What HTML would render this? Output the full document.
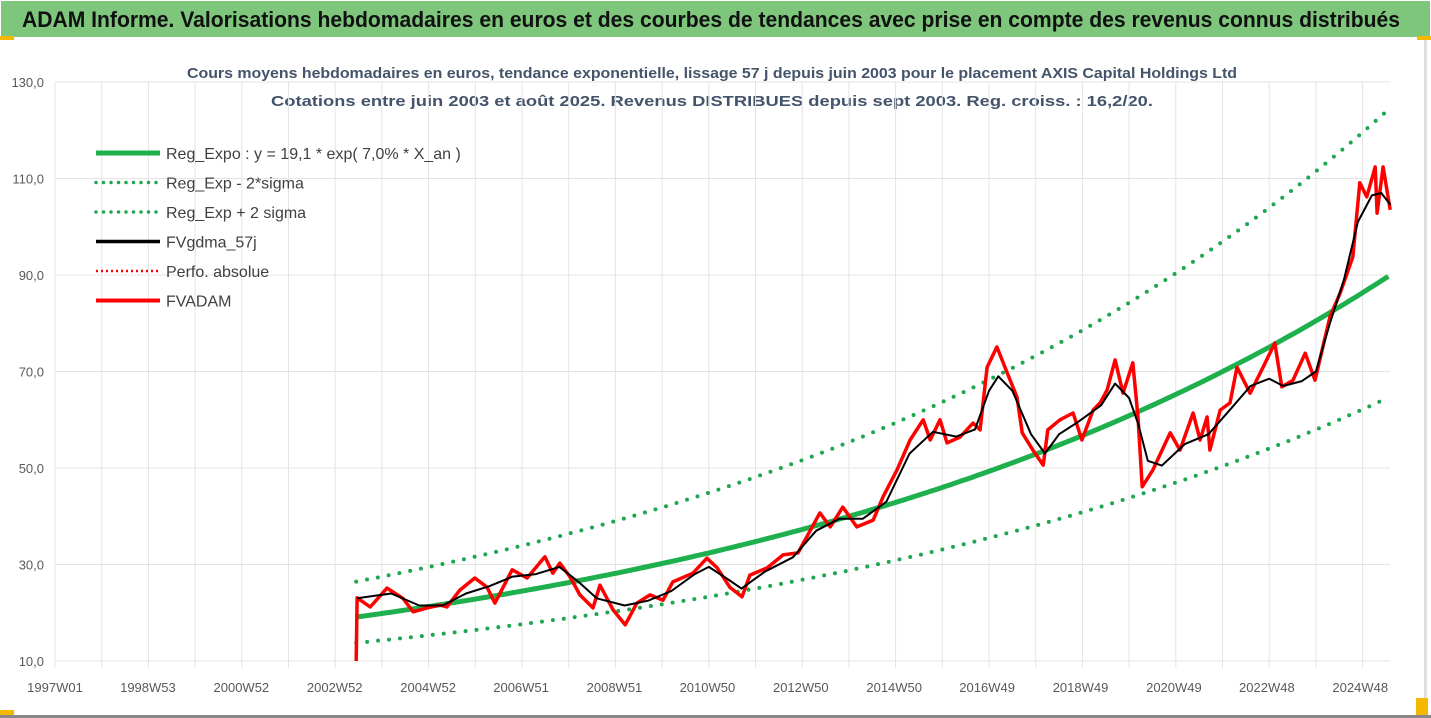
<!DOCTYPE html>
<html><head><meta charset="utf-8"><style>
html,body{margin:0;padding:0;background:#fff;}
svg{display:block;font-family:"Liberation Sans",sans-serif;}
</style></head><body>
<svg id="c" width="1431" height="718" viewBox="0 0 1431 718">
<rect x="0" y="0" width="1431" height="718" fill="#fff"/>
<rect x="1" y="1" width="1429" height="36" fill="#7dc67c"/>
<text x="22" y="27" font-size="22" font-weight="bold" fill="#111" textLength="1378" lengthAdjust="spacingAndGlyphs">ADAM Informe. Valorisations hebdomadaires en euros et des courbes de tendances avec prise en compte des revenus connus distribués</text>
<rect x="0" y="36" width="14" height="4" fill="#f5b800"/>
<rect x="1417" y="36" width="14" height="4" fill="#f5b800"/>
<rect x="1424" y="40" width="3" height="676" fill="#e0e0e0"/>
<rect x="0" y="715" width="1431" height="3" fill="#888"/>
<rect x="1416" y="698" width="12" height="17" fill="#f5b800"/>
<rect x="0" y="710" width="14" height="5" fill="#f5b800"/>
<text x="712" y="78" text-anchor="middle" font-size="15" font-weight="bold" fill="#44546a" textLength="1050" lengthAdjust="spacingAndGlyphs">Cours moyens hebdomadaires en euros, tendance exponentielle, lissage 57 j depuis juin 2003 pour le placement AXIS Capital Holdings Ltd</text>
<text x="712" y="106" text-anchor="middle" font-size="15" font-weight="bold" fill="#44546a" textLength="882" lengthAdjust="spacingAndGlyphs">Cotations entre juin 2003 et août 2025. Revenus DISTRIBUES depuis sept 2003. Reg. croiss. : 16,2/20.</text>
<g id="grid"></g>
<g id="axes"></g>
<g id="series"></g>
<g id="legend"></g>
</svg>
<script>
const yTicks=[10,30,50,70,90,110,130];
const yTickLabels=["10,0","30,0","50,0","70,0","90,0","110,0","130,0"];
const xTickYears=[1997.0,1998.99,2000.99,2002.99,2004.99,2006.98,2008.98,2010.97,2012.97,2014.97,2016.96,2018.96,2020.96,2022.95,2024.95];
const xTickLabels=["1997W01","1998W53","2000W52","2002W52","2004W52","2006W51","2008W51","2010W50","2012W50","2014W50","2016W49","2018W49","2020W49","2022W48","2024W48"];
const regA=[19.1];
const regRate=[0.07];
const regStart=[2003.45];
const regEnd=[2025.6];
const bandUp=[1.385];
const bandLow=[0.72];
const redYears=[2003.45,2003.47,2003.75,2004.11,2004.45,2004.67,2004.97,2005.24,2005.39,2005.67,2005.99,2006.25,2006.42,2006.79,2007.11,2007.49,2007.66,2007.81,2008.03,2008.24,2008.52,2008.67,2008.95,2009.21,2009.46,2009.74,2010.02,2010.23,2010.66,2010.96,2011.18,2011.45,2011.71,2011.88,2012.25,2012.59,2012.91,2013.38,2013.60,2013.87,2014.17,2014.52,2014.73,2015.03,2015.31,2015.59,2015.74,2015.95,2016.10,2016.38,2016.66,2016.81,2016.96,2017.17,2017.39,2017.60,2017.71,2017.94,2018.16,2018.26,2018.52,2018.80,2018.99,2019.23,2019.38,2019.53,2019.70,2019.87,2020.08,2020.19,2020.28,2020.51,2020.88,2021.09,2021.37,2021.52,2021.67,2021.73,2021.95,2022.16,2022.31,2022.59,2022.87,2023.12,2023.27,2023.51,2023.77,2023.98,2024.30,2024.52,2024.79,2024.94,2025.09,2025.27,2025.31,2025.44,2025.59];
const redValues=[10,23.1,21.2,25.1,23,20.2,21,21.6,21.2,24.7,27.2,25.3,22,28.9,27.2,31.6,28.2,30.3,27.4,23.7,21,25.7,20.6,17.5,22,23.7,22.6,26.4,28.2,31.3,29.3,25.3,23.3,27.8,29.3,32,32.4,40.7,37.8,41.9,37.8,39.2,44,49.6,55.8,60,55.8,60,55.2,56.4,59.3,57.9,70.9,75.1,69.7,64.7,57.3,53.7,50.6,57.9,60,61.4,55.8,62,63.5,66.2,72.4,65.5,71.8,60.6,46.1,49.6,57.3,53.7,61.4,55.8,60.6,53.7,62,63.5,70.9,65.5,70.9,75.9,66.8,68.2,73.8,68.2,81.3,86.3,93.7,109.1,106.2,112.4,102.8,112.4,103.5];
const blackYears=[2003.47,2004.2,2004.8,2005.3,2005.8,2006.3,2006.8,2007.3,2007.8,2008.2,2008.6,2009.2,2009.7,2010.2,2010.7,2011.0,2011.4,2011.7,2012.2,2012.8,2013.3,2013.8,2014.3,2014.8,2015.3,2015.8,2016.3,2016.7,2017.0,2017.2,2017.5,2017.9,2018.2,2018.5,2018.9,2019.4,2019.7,2020.0,2020.2,2020.4,2020.7,2021.2,2021.7,2022.2,2022.6,2023.0,2023.3,2023.7,2024.0,2024.3,2024.6,2024.9,2025.2,2025.4,2025.6];
const blackValues=[23,24,21.5,21.5,24,25.5,27.5,28,29.5,26.5,23,21.5,22.5,24.5,28,29.5,27,25,28.5,31.5,37,39.5,39.5,43,53,57.5,56.5,58,66,69,66,57,53,57,59.5,63,67.5,64.5,59,51.5,50.5,55,57,62.5,67,68.5,67,68,70,80,89,101,106.5,107,104.5];

const NS="http://www.w3.org/2000/svg";
const X0=55,PXY=46.7,Y0=661,PXV=96.5/20;
function xs(yr){return X0+(yr-1997)*PXY;}
function ys(v){return Y0-(v-10)*PXV;}
function mk(tag,attrs,parent){const e=document.createElementNS(NS,tag);for(const k in attrs)e.setAttribute(k,attrs[k]);parent.appendChild(e);return e;}
const grid=document.getElementById('grid'),axes=document.getElementById('axes'),ser=document.getElementById('series'),leg=document.getElementById('legend');
// horizontal grid
yTicks.forEach((v,i)=>{
  const l=mk('line',{x1:X0,x2:1390,y1:ys(v),y2:ys(v),stroke:'#e4e4e4','stroke-width':1},grid);
  
  
  const t=mk('text',{x:44,y:ys(v)+5,'text-anchor':'end','font-size':13,fill:'#595959'},axes);
  t.textContent=yTickLabels[i];
  
  
});
// vertical yearly grid
for(let k=0;k<=28;k++){
  const x=X0+k*PXY; if(x>1391)break;
  const l=mk('line',{x1:x,x2:x,y1:ys(130),y2:Y0+7,stroke:'#e4e4e4','stroke-width':1},grid);
  
  
}
xTickYears.forEach((yr,i)=>{
  const t=mk('text',{x:xs(yr),y:692,'text-anchor':'middle','font-size':13,fill:'#595959'},axes);
  t.textContent=xTickLabels[i];
  
  
});
function regPts(f){const p=[];for(let yr=regStart[0];yr<=regEnd[0]+1e-9;yr+=0.1){const v=regA[0]*Math.exp(regRate[0]*(yr-regStart[0]))*f;p.push(xs(yr).toFixed(1)+','+ys(v).toFixed(1));}return p.join(' ');}
const up=mk('polyline',{points:regPts(bandUp[0]),fill:'none',stroke:'#1ea650','stroke-width':4,'stroke-linecap':'round','stroke-dasharray':'0 11'},ser);


const lo=mk('polyline',{points:regPts(bandLow[0]),fill:'none',stroke:'#1ea650','stroke-width':4,'stroke-linecap':'round','stroke-dasharray':'0 11'},ser);


const rg=mk('polyline',{points:regPts(1),fill:'none',stroke:'#1fb04e','stroke-width':5},ser);


const red=mk('polyline',{points:redYears.map((y,i)=>xs(y).toFixed(1)+','+ys(redValues[i]).toFixed(1)).join(' '),fill:'none',stroke:'#ff0000','stroke-width':3.5,'stroke-linejoin':'round'},ser);


const blk=mk('polyline',{points:blackYears.map((y,i)=>xs(y).toFixed(1)+','+ys(blackValues[i]).toFixed(1)).join(' '),fill:'none',stroke:'#000','stroke-width':2,'stroke-linejoin':'round'},ser);


// legend
const legItems=[["Reg_Expo : y = 19,1 * exp( 7,0% *  X_an )",'#1fb04e',5,null],["Reg_Exp - 2*sigma",'#1ea650',3.5,'0 7.5'],["Reg_Exp + 2 sigma",'#1ea650',3.5,'0 7.5'],["FVgdma_57j",'#000',3.5,null],["Perfo. absolue",'#ff0000',2.5,'2 3'],["FVADAM",'#ff0000',4,null]];
legItems.forEach((it,i)=>{
  const y=153+i*29.5;
  const a={x1:96,x2:160,y1:y,y2:y,stroke:it[1],'stroke-width':it[2]};
  if(it[3]){a['stroke-dasharray']=it[3];a['stroke-linecap']=it[3].startsWith('0')?'round':'butt';}
  const l=mk('line',a,leg);
  
  
  const t=mk('text',{x:166,y:y+6,'font-size':16,fill:'#404040'},leg);
  t.textContent=it[0];
  
  
});
</script>
</body></html>
